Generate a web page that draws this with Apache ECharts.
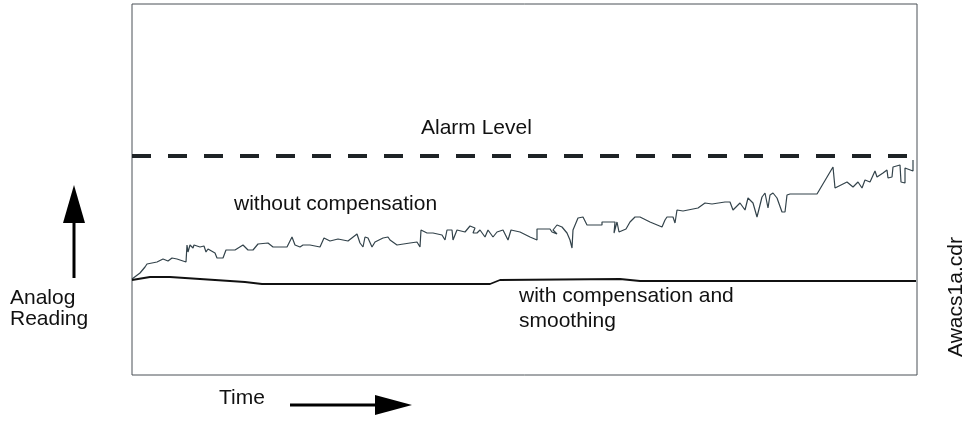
<!DOCTYPE html>
<html>
<head>
<meta charset="utf-8">
<script src="https://cdn.jsdelivr.net/npm/echarts@6/dist/echarts.min.js"></script>
<style>html,body{margin:0;padding:0;background:#fff;}#c{width:969px;height:444px;}</style>
</head>
<body>
<div id="c"></div>
<script>
// Time (arbitrary units) and analog reading (arbitrary units)
var rawTime = [0,8,13,15,25,31,36,40,45,54,55,56,58,61,62,68,72,74,76,83,85,91,94,103,111,116,121,126,128,136,141,155,160,163,168,171,178,188,192,198,206,216,225,228,231,233,236,240,243,251,256,258,265,278,285,288,289,295,301,310,313,315,320,321,325,333,338,343,341,345,348,353,356,361,365,371,376,379,388,398,405,405,418,420,425,421,425,430,435,438,440,441,446,451,455,470,470,483,482,485,487,487,494,498,503,508,518,530,533,535,541,543,545,551,566,573,580,593,598,601,608,613,616,621,625,630,633,636,638,641,645,650,653,655,658,685,701,703,715,721,726,730,733,738,743,745,751,755,756,760,761,768,769,773,773,781,781];
var rawReading = [96,102,108,111,113,116,114,117,116,113,130,123,130,127,130,128,129,123,126,122,117,117,125,125,130,125,125,131,132,132,128,128,138,130,128,130,130,128,137,134,136,134,141,132,128,138,137,128,133,137,138,135,130,132,133,128,145,142,142,140,135,145,145,135,145,143,149,147,142,142,145,138,145,138,143,145,135,145,143,138,135,146,146,143,141,145,150,148,142,135,127,145,157,158,150,150,153,153,142,153,153,143,146,153,158,158,153,148,155,158,158,152,165,164,167,172,171,173,173,165,172,165,177,172,158,178,182,167,180,182,177,163,163,180,181,181,208,187,193,188,193,187,195,193,204,198,202,205,197,198,208,210,193,192,207,204,215];
var compTime = [0,18,38,113,130,358,368,488,508,784];
var compReading = [95,98,98,93,91,91,95,96,94,94];
var alarmLevel = 219;
var timeRange = [0, 785];
var readingRange = [0, 371];

function pairs(xs, ys){ return xs.map(function(x,i){ return [x, ys[i]]; }); }

var chart = echarts.init(document.getElementById('c'), null, {renderer:'canvas'});
var F = '21px "Liberation Sans", Arial, sans-serif';
chart.setOption({
  animation:false,
  grid:{left:132, top:4, width:785, height:371, show:true, borderColor:'#4a5056', borderWidth:1, backgroundColor:'transparent'},
  xAxis:{type:'value', min:timeRange[0], max:timeRange[1], show:false},
  yAxis:{type:'value', min:readingRange[0], max:readingRange[1], show:false},
  series:[
    {type:'line', data:[[timeRange[0], alarmLevel],[783, alarmLevel]], symbol:'none',
     lineStyle:{color:'#1e2326', width:4, type:[19,17]}},
    {type:'line', data:pairs(rawTime, rawReading), symbol:'none',
     lineStyle:{color:'#33434b', width:1.2}},
    {type:'line', data:pairs(compTime, compReading), symbol:'none',
     lineStyle:{color:'#111', width:1.8}}
  ],
  graphic:[
    {type:'text', left:421, top:118, style:{text:'Alarm Level', font:F, fill:'#111'}},
    {type:'text', left:234, top:194, style:{text:'without compensation', font:F, fill:'#111'}},
    {type:'text', left:519, top:286, style:{text:'with compensation and', font:F, fill:'#111'}},
    {type:'text', left:519, top:311, style:{text:'smoothing', font:F, fill:'#111'}},
    {type:'text', left:10, top:288, style:{text:'Analog', font:F, fill:'#111'}},
    {type:'text', left:10, top:309, style:{text:'Reading', font:F, fill:'#111'}},
    {type:'text', left:219, top:388, style:{text:'Time', font:F, fill:'#111'}},
    {type:'text', x:956, y:297, rotation:Math.PI/2, style:{text:'Awacs1a.cdr', font:F, fill:'#111', textAlign:'center', textVerticalAlign:'middle'}},
    {type:'line', shape:{x1:74, y1:220, x2:74, y2:278}, style:{stroke:'#000', lineWidth:3}},
    {type:'polygon', shape:{points:[[74,185],[63,223],[85,223]]}, style:{fill:'#000'}},
    {type:'line', shape:{x1:290, y1:405, x2:378, y2:405}, style:{stroke:'#000', lineWidth:3}},
    {type:'polygon', shape:{points:[[412,405],[375,395],[375,415]]}, style:{fill:'#000'}}
  ]
});
</script>
</body>
</html>
